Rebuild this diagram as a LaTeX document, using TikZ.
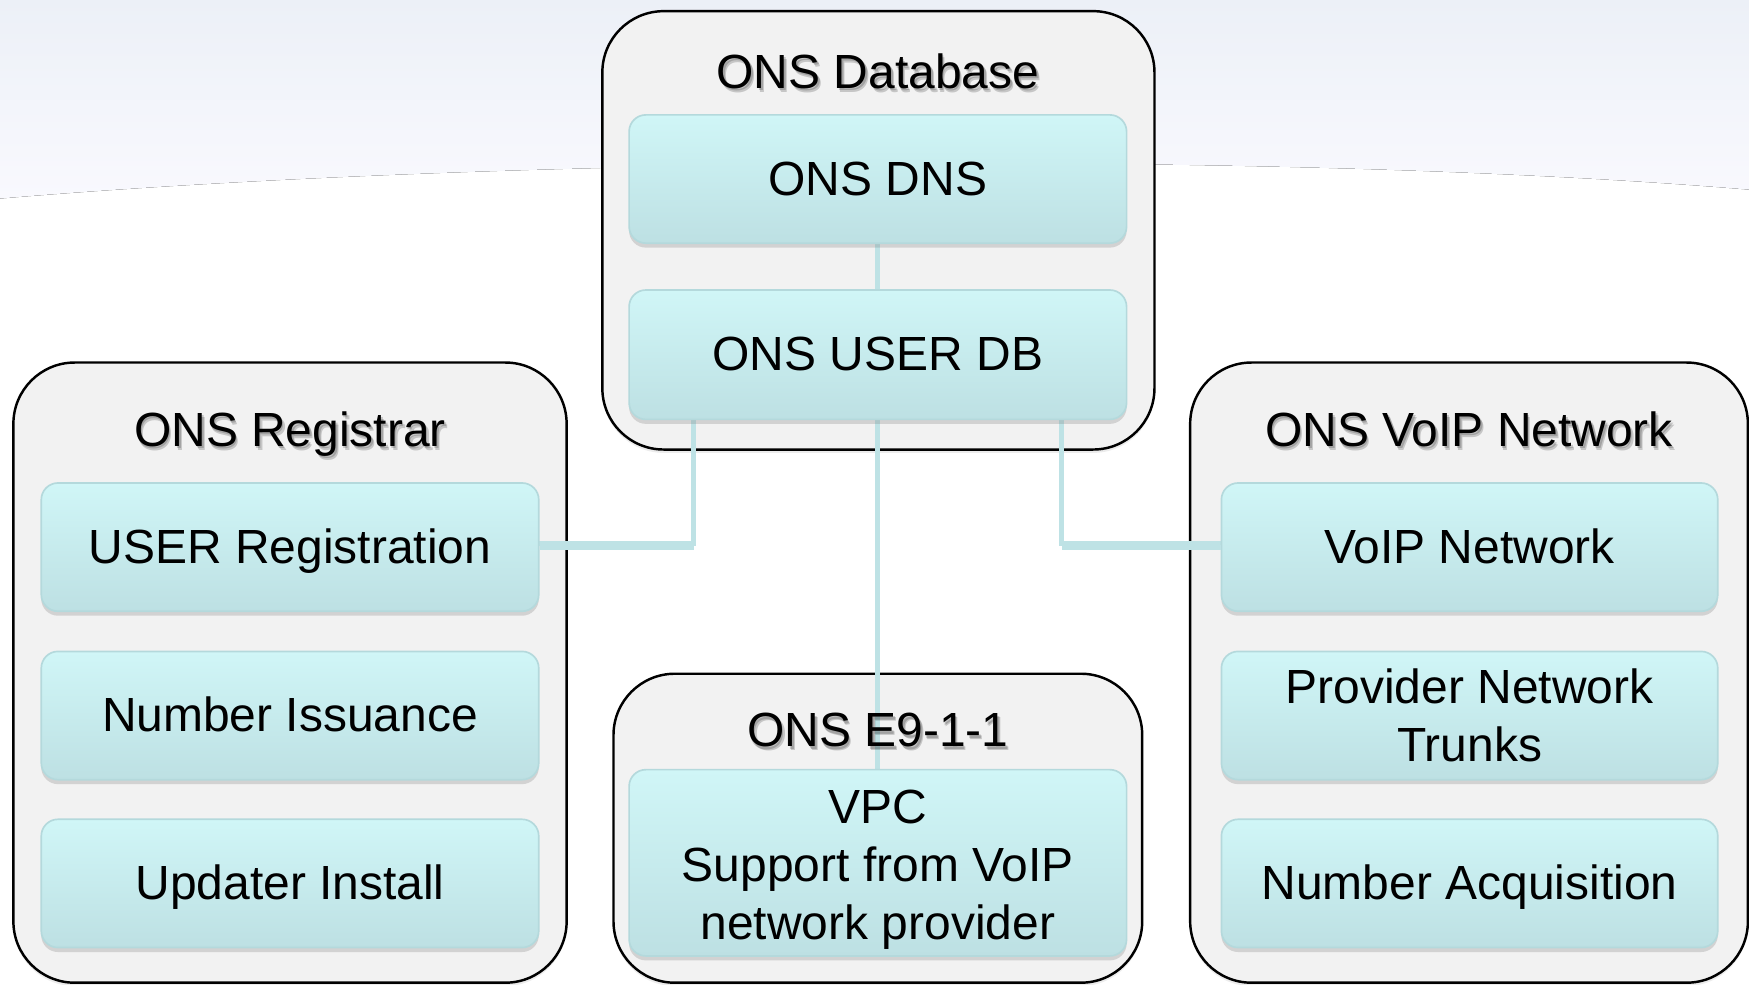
\documentclass[tikz,border=0pt]{standalone}
\usepackage{fontspec}
\setmainfont{Liberation Sans}
\usetikzlibrary{shadows,calc}
\definecolor{bandtop}{RGB}{236,240,247}
\definecolor{bandbot}{RGB}{249,249,254}
\definecolor{contfill}{RGB}{242,242,242}
\definecolor{boxtop}{RGB}{208,246,247}
\definecolor{boxbot}{RGB}{189,224,227}
\definecolor{boxline}{RGB}{180,217,220}
\definecolor{connc}{RGB}{190,226,229}
\tikzset{
  container/.style={draw=black, line width=2.2pt, fill=contfill, rounded corners=55pt,
    drop shadow={shadow xshift=0pt, shadow yshift=-3pt, opacity=0.15}},
  itembox/.style={draw=boxline, line width=1.5pt, top color=boxtop, bottom color=boxbot,
    rounded corners=15pt, minimum width=446pt, minimum height=115pt, inner sep=0pt,
    align=center, font=\fontsize{43}{52}\selectfont,
    drop shadow={shadow xshift=0pt, shadow yshift=-4pt, opacity=0.28}},
  oneline/.style={text height=36pt, text depth=7pt},
  boxtext/.style={inner sep=0pt, align=center, font=\fontsize{43}{52}\selectfont},
  conn/.style={draw=connc, line width=4.5pt},
  titletxt/.style={font=\fontsize{43}{52}\selectfont, inner sep=0pt, text height=36pt, text depth=7pt},
  titleshadow/.style={titletxt, text=black, text opacity=0.18}
}
\newcommand{\ttl}[3]{%
  \node[titleshadow] (#1s2) at ([xshift=2.5pt,yshift=-3pt]#2) {#3};
  \node[titleshadow] (#1s1) at ([xshift=1.5pt,yshift=-2pt]#2) {#3};
  \node[titletxt] (#1) at (#2) {#3};
}
\begin{document}
\begin{tikzpicture}[x=1pt,y=-1pt]
\useasboundingbox (0,0) rectangle (1568,883);
% background
\fill[white] (0,0) rectangle (1568,883);
\fill[top color=bandtop, bottom color=bandbot] (0,0) -- (1568,0) -- (1568,170)
   .. controls (1150,135) and (450,140) .. (0,178) -- cycle;
% containers
\node[container, minimum width=495pt, minimum height=393pt] (dbc) at (787.5,206.5) {};
\node[container, minimum width=496pt, minimum height=556pt] (regc) at (260,603) {};
\node[container, minimum width=474pt, minimum height=277pt] (e911c) at (787,742.5) {};
\node[container, minimum width=500pt, minimum height=556pt] (voipc) at (1317,603) {};
% anchor points
\coordinate (a1) at (787,160.5);
\coordinate (a2) at (787,318);
\coordinate (a3) at (622,318);
\coordinate (a4) at (952,318);
\coordinate (regin) at (400,487);
\coordinate (voipin) at (1180,487);
\coordinate (vpcin) at (787,760);
% connectors (under boxes)
\draw[conn] (a1) -- (a2);
\draw[conn] (a3) |- (regin);
\draw[conn] (a4) |- (voipin);
\draw[conn] (a2) -- (vpcin);
% boxes
\node[itembox, oneline] (dns) at (a1) {ONS DNS};
\node[itembox, oneline, minimum height=116pt] (userdb) at (a2) {ONS USER DB};
\node[itembox, oneline] (userreg) at (260,490.5) {USER Registration};
\node[itembox, oneline] (numiss) at (260,641.5) {Number Issuance};
\node[itembox, oneline] (updater) at (260,792) {Updater Install};
\node[itembox, oneline, minimum width=445pt] (voipnet) at (1317.5,490.5) {VoIP Network};
\node[itembox, minimum width=445pt] (provider) at (1317.5,641.5) {Provider Network\\Trunks};
\node[itembox, oneline, minimum width=445pt] (numacq) at (1317.5,792) {Number Acquisition};
\node[itembox, minimum height=167pt] (vpc) at (787,773.5) {};
\node[boxtext] (vpctext) at ([yshift=-6pt]vpc.center) {VPC\\Support from VoIP\\network provider};
% connector ends on top of container borders
\draw[conn] (a3 |- userreg.east) -- (userreg.east);
\draw[conn] (a4 |- voipnet.west) -- (voipnet.west);
% titles
\ttl{tdb}{787,65}{ONS Database}
\ttl{treg}{260,386}{ONS Registrar}
\ttl{tvoip}{1317,386}{ONS VoIP Network}
\ttl{te911}{787,655}{ONS E9-1-1}
\end{tikzpicture}
\end{document}
